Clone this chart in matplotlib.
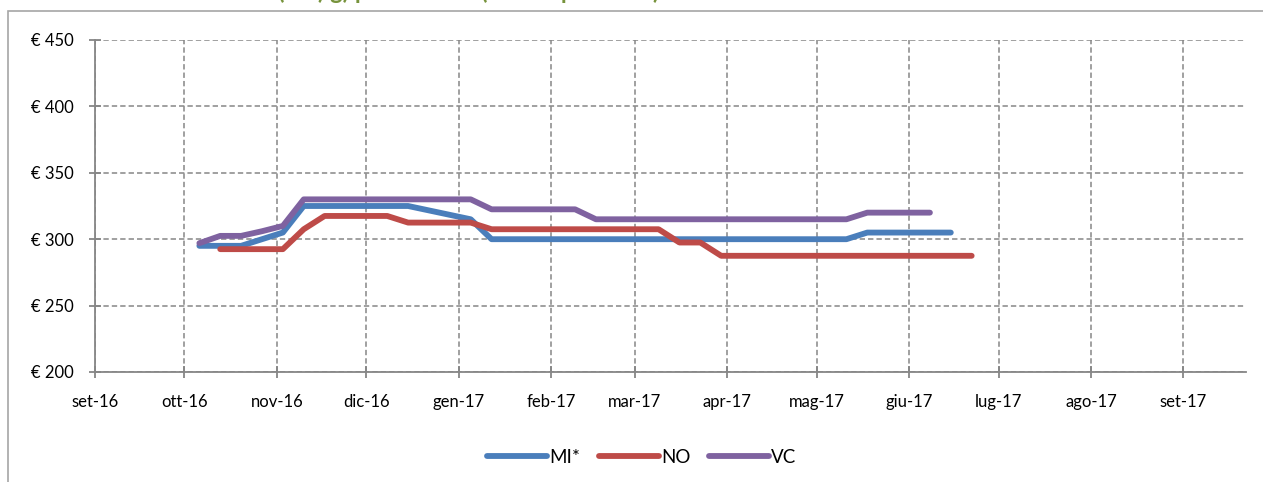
import numpy as np
import pandas as pd
import matplotlib
matplotlib.use('Agg')
import matplotlib.pyplot as plt
from matplotlib.patches import Rectangle

plt.rcParams['font.family'] = ['Lato', 'DejaVu Sans']

# weekly quotations (Christmas weeks missing)
dates = ['2016-10-06', '2016-10-13', '2016-10-20', '2016-10-27',
         '2016-11-03', '2016-11-10', '2016-11-17', '2016-11-24',
         '2016-12-01', '2016-12-08', '2016-12-15',
         '2017-01-05', '2017-01-12', '2017-01-19', '2017-01-26',
         '2017-02-02', '2017-02-09', '2017-02-16', '2017-02-23',
         '2017-03-02', '2017-03-09', '2017-03-16', '2017-03-23', '2017-03-30',
         '2017-04-06', '2017-04-13', '2017-04-20', '2017-04-27',
         '2017-05-04', '2017-05-11', '2017-05-18', '2017-05-25',
         '2017-06-01', '2017-06-08', '2017-06-15', '2017-06-22']
nan = np.nan
mi = [295, 295, 295, 300,
      305, 325, 325, 325,
      325, 325, 325,
      315, 300, 300, 300,
      300, 300, 300, 300,
      300, 300, 300, 300, 300,
      300, 300, 300, 300,
      300, 300, 305, 305,
      305, 305, 305, nan]
no = [nan, 292.5, 292.5, 292.5,
      292.5, 307.5, 317.5, 317.5,
      317.5, 317.5, 312.5,
      312.5, 307.5, 307.5, 307.5,
      307.5, 307.5, 307.5, 307.5,
      307.5, 307.5, 297.5, 297.5, 287.5,
      287.5, 287.5, 287.5, 287.5,
      287.5, 287.5, 287.5, 287.5,
      287.5, 287.5, 287.5, 287.5]
vc = [297, 302.5, 302.5, 306,
      310, 330, 330, 330,
      330, 330, 330,
      330, 322.5, 322.5, 322.5,
      322.5, 322.5, 315, 315,
      315, 315, 315, 315, 315,
      315, 315, 315, 315,
      315, 315, 320, 320,
      320, 320, nan, nan]

month_labels = ['set-16', 'ott-16', 'nov-16', 'dic-16', 'gen-17', 'feb-17', 'mar-17',
                'apr-17', 'mag-17', 'giu-17', 'lug-17', 'ago-17', 'set-17']

df = pd.DataFrame({'MI*': mi, 'NO': no, 'VC': vc}, index=pd.to_datetime(dates))
colors = {'MI*': '#4A7EBB', 'NO': '#BE4B48', 'VC': '#7F62A0'}

fig = plt.figure(figsize=(12.63, 4.82), dpi=100)
ax = fig.add_axes([95 / 1263, 1 - 372 / 482, (1246 - 95) / 1263, (372 - 40) / 482])

for name in ['MI*', 'NO', 'VC']:
    s = df[name].dropna()
    ax.plot(s.index, s.values, color=colors[name], lw=4.2, label=name,
            solid_capstyle='round', solid_joinstyle='round')

ticks = pd.date_range('2016-09-01', periods=13, freq='MS')
ax.set_xlim(pd.Timestamp('2016-09-01'), pd.Timestamp('2017-09-22'))
ax.set_xticks(ticks)
ax.set_xticklabels(month_labels)
ax.set_ylim(200, 450)
ax.set_yticks([200, 250, 300, 350, 400, 450])
ax.set_yticklabels(['€ %d' % v for v in [200, 250, 300, 350, 400, 450]])

ax.grid(True, color='#868686', ls=(0, (3.5, 2)), lw=1.1)
for sp in ['top', 'right']:
    ax.spines[sp].set_visible(False)
for sp in ['left', 'bottom']:
    ax.spines[sp].set_color('#868686')
    ax.spines[sp].set_linewidth(1.3)
ax.tick_params(direction='inout', length=9, width=1.3, color='#868686',
               labelsize=12, pad=11)

ax.legend(loc='upper center', bbox_to_anchor=(0.475, -0.18), ncol=3, frameon=False,
          fontsize=13.5, handlelength=3.2, handletextpad=0.1, columnspacing=1.0)

# chart area frame (cut by the picture)
fig.patches.append(Rectangle((8 / 1263, -0.2), 1.2, 1.2 - 11 / 482,
                             transform=fig.transFigure, fill=False,
                             edgecolor='#a6a6a6', lw=1.2))
# title, cut at the top of the picture as in the source
fig.text(278 / 1263, 1 + 1 / 482, '(€/t) g) prezzi medi (franco partenza)',
         color='#77933C', fontsize=17, fontweight='bold', va='baseline')

fig.savefig('out.png', dpi=100)
